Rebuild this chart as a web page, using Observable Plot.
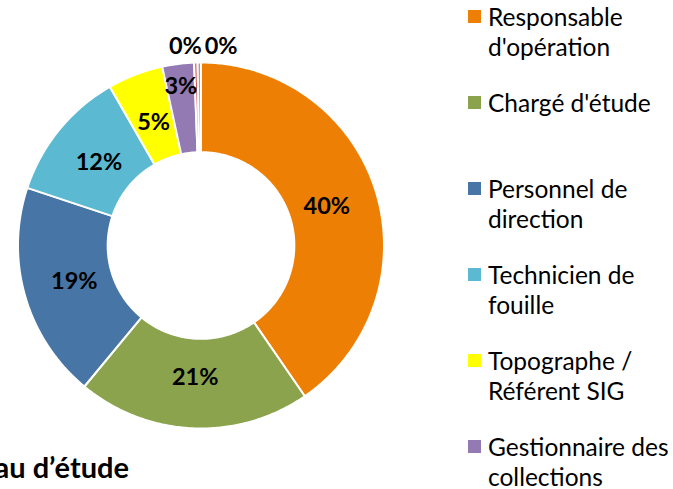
<!DOCTYPE html>
<html>
<head>
<meta charset="utf-8">
<script src="https://cdn.jsdelivr.net/npm/d3@7"></script>
<script src="https://cdn.jsdelivr.net/npm/@observablehq/plot@0.6"></script>
<style>
  html, body { margin: 0; padding: 0; background: #fff; }
  body { width: 673px; height: 489px; overflow: hidden; position: relative; font-family: Lato, "Open Sans", sans-serif; }
  #chart { position: absolute; left: 0; top: 0; }
  #title { position: absolute; right: calc(673px - 129px); top: 452px; font-weight: bold; font-size: 29px; line-height: 30px; white-space: nowrap; color: #000; }
  #legend { position: absolute; left: 468px; top: 0; }
  .item { position: absolute; left: 0; width: 210px; }
  .sw { position: absolute; left: 0; top: 0; width: 13px; height: 13px; }
  .lb { position: absolute; left: 20px; top: -8px; font-size: 24.5px; line-height: 30px; color: #000; white-space: nowrap; }
</style>
</head>
<body>
<div id="chart"></div>
<div id="title">Bureau d’étude</div>
<div id="legend"></div>
<script>
const categories = [
  "Responsable d'opération",
  "Chargé d'étude",
  "Personnel de direction",
  "Technicien de fouille",
  "Topographe / Référent SIG",
  "Gestionnaire des collections",
  "Autre",
  "Non renseigné"
];
const legendLines = [
  ["Responsable", "d'opération"],
  ["Chargé d'étude"],
  ["Personnel de", "direction"],
  ["Technicien de", "fouille"],
  ["Topographe /", "Référent SIG"],
  ["Gestionnaire des", "collections"],
  ["Autre"],
  ["Non renseigné"]
];
const values = [40.4, 20.6, 19.1, 11.6, 4.9, 2.8, 0.3, 0.3];
const colors = ["#EE7F05", "#8BA34C", "#4775A5", "#5BB9D2", "#FFFF00", "#937AB3", "#D9534F", "#A0A0A0"];

const innerRatio = 0.51;
const arcs = d3.pie().sort(null).startAngle(0).endAngle(2 * Math.PI)(values);

// polygon outlines of the donut slices (unit circle coordinates)
const ring = [];
arcs.forEach((a, i) => {
  const n = Math.max(2, Math.ceil((a.endAngle - a.startAngle) / 0.01));
  const pts = [];
  for (let k = 0; k <= n; k++) {
    const t = a.startAngle + (a.endAngle - a.startAngle) * k / n;
    pts.push([Math.sin(t), Math.cos(t)]);
  }
  for (let k = n; k >= 0; k--) {
    const t = a.startAngle + (a.endAngle - a.startAngle) * k / n;
    pts.push([innerRatio * Math.sin(t), innerRatio * Math.cos(t)]);
  }
  pts.forEach(([x, y]) => ring.push({cat: categories[i], x, y}));
});

// label anchors
const labels = arcs.map((a, i) => {
  const mid = (a.startAngle + a.endAngle) / 2;
  const v = values[i];
  const r = v < 1 ? 1.09 : v < 4 ? 0.875 : 0.72;
  return {cat: categories[i], i, v, text: Math.round(v) + "%", x: r * Math.sin(mid), y: r * Math.cos(mid)};
});
const inside = labels.filter(d => d.v >= 1);
const tiny = labels.filter(d => d.v < 1);

const R = 183;
const cx = 200.5, cy = 245;
const W = 420, H = 489;

const chart = Plot.plot({
  width: W,
  height: H,
  marginLeft: cx - R,
  marginRight: W - cx - R,
  marginTop: cy - R,
  marginBottom: H - cy - R,
  x: {domain: [-1, 1], axis: null},
  y: {domain: [-1, 1], axis: null},
  color: {domain: categories, range: colors},
  style: {fontFamily: "Lato, 'Open Sans', sans-serif", background: "transparent", overflow: "visible"},
  marks: [
    Plot.line(ring, {x: "x", y: "y", z: "cat", fill: "cat", stroke: "white", strokeWidth: 2, curve: "linear-closed"}),
    Plot.text(inside, {x: "x", y: "y", text: "text", fontSize: 23.5, fontWeight: "bold", fill: "black"}),
    Plot.text(tiny.slice(0, 1), {x: "x", y: "y", text: "text", fontSize: 23.5, fontWeight: "bold", fill: "black", dx: -10}),
    Plot.text(tiny.slice(1), {x: "x", y: "y", text: "text", fontSize: 23.5, fontWeight: "bold", fill: "black", dx: 22})
  ]
});
document.getElementById("chart").appendChild(chart);

// legend
const legend = document.getElementById("legend");
categories.forEach((c, i) => {
  const item = document.createElement("div");
  item.className = "item";
  item.style.top = (10 + i * 86) + "px";
  const sw = document.createElement("div");
  sw.className = "sw";
  sw.style.background = colors[i];
  const lb = document.createElement("div");
  lb.className = "lb";
  lb.innerHTML = legendLines[i].join("<br>");
  item.appendChild(sw);
  item.appendChild(lb);
  legend.appendChild(item);
});
</script>
</body>
</html>
